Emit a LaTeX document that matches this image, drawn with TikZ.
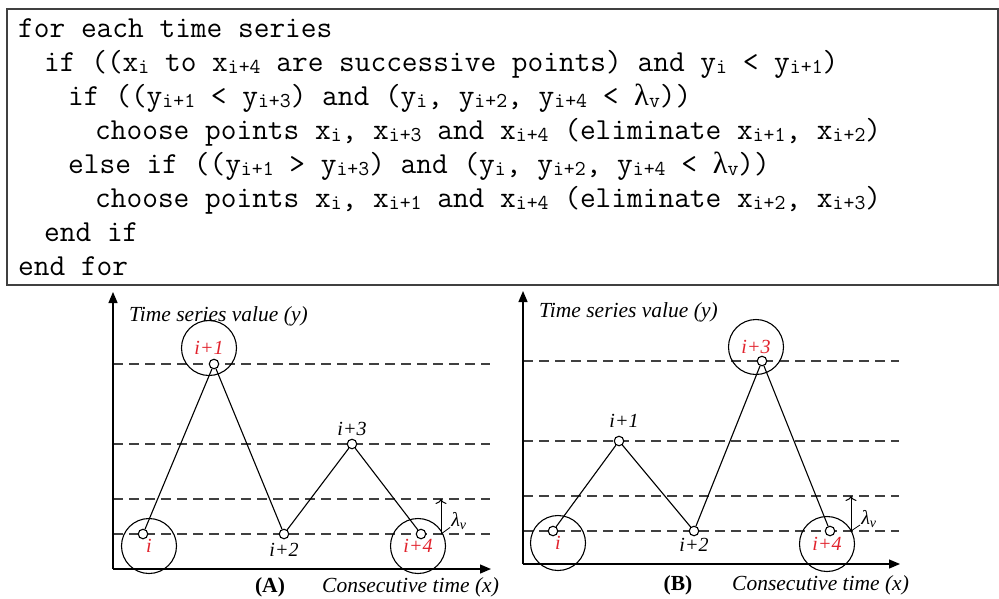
\documentclass[tikz,border=0pt]{standalone}
\usepackage{fontspec}
\setmainfont{Liberation Serif}
\newfontfamily\grkfont{Liberation Serif}
\usepackage{tikz}
\usetikzlibrary{arrows.meta,positioning}

\definecolor{ptred}{RGB}{225,35,45}
\newcommand{\sbs}[1]{\raisebox{-2pt}{\fontsize{21.2}{21.2}\selectfont #1}}
\newcommand{\lam}{{\grkfont λ}}

\begin{document}
\begin{tikzpicture}[x=1pt, y=-1pt,
  code/.style={anchor=base west, inner sep=0, font=\ttfamily\fontsize{30.5}{34}\selectfont\frenchspacing},
  codebox/.style={draw=black!75, line width=1.4pt},
  level/.style={draw=black!75, line width=1.4pt, dash pattern=on 10pt off 6pt},
  axis/.style={-{Triangle[length=11pt,width=9pt]}, line width=1.3pt},
  link/.style={line width=1.1pt},
  pt/.style={circle, draw, line width=1.1pt, fill=white, inner sep=0, minimum size=9.5pt},
  ring/.style={circle, draw, line width=1.1pt, inner sep=0, minimum size=55pt, text=ptred,
               font=\fontsize{20}{22}\selectfont\itshape},
  lab/.style={inner sep=1pt, font=\fontsize{20}{22}\selectfont\itshape},
  axtxt/.style={anchor=west, inner sep=0, font=\fontsize{21.5}{24}\selectfont\itshape},
  captxt/.style={inner sep=0, font=\fontsize{21.5}{24}\selectfont\bfseries},
  gap/.style={-{To[length=5pt,width=11pt]}, line width=1pt}
]
  \useasboundingbox (0,0) rectangle (999,598);

  % pseudo code
  \draw[codebox] (7,9) rectangle (998,285);
  \node[code] (c1) at (18,37)  {for each time series};
  \node[code] (c2) at (44,71)  {if ((x\sbs{i} to x\sbs{i+4} are successive points) and y\sbs{i} < y\sbs{i+1})};
  \node[code] (c3) at (68,105) {if ((y\sbs{i+1} < y\sbs{i+3}) and (y\sbs{i}, y\sbs{i+2}, y\sbs{i+4} < \lam\sbs{v}))};
  \node[code] (c4) at (95,139) {choose points x\sbs{i}, x\sbs{i+3} and x\sbs{i+4} (eliminate x\sbs{i+1}, x\sbs{i+2})};
  \node[code] (c5) at (68,173) {else if ((y\sbs{i+1} > y\sbs{i+3}) and (y\sbs{i}, y\sbs{i+2}, y\sbs{i+4} < \lam\sbs{v}))};
  \node[code] (c6) at (95,207) {choose points x\sbs{i}, x\sbs{i+1} and x\sbs{i+4} (eliminate x\sbs{i+2}, x\sbs{i+3})};
  \node[code] (c7) at (44,241) {end if};
  \node[code] (c8) at (18,275) {end for};

  % panel (A)
  \coordinate (oA) at (113,569);
  \coordinate (yA) at (113,292);
  \coordinate (xA) at (491,569);
  \foreach \h in {364,444,499,534}
    \draw[level] (113,\h) -- (490,\h);
  \draw[axis] (oA) -- (yA);
  \draw[axis] (oA) -- (xA);
  \node[ring] (rA0) at (149,546) {i};
  \node[ring] (rA1) at (209,348) {i+1};
  \node[ring] (rA4) at (418,546) {i+4};
  \node[pt] (a0) at (143,534) {};
  \node[pt] (a1) at (214,364) {};
  \node[pt] (a2) at (284,534) {};
  \node[pt] (a3) at (352,444) {};
  \node[pt] (a4) at (421,534) {};
  \draw[link] (a0) -- (a1) -- (a2) -- (a3) -- (a4);
  \node[lab, below=3pt of a2] (tA2) {i+2};
  \node[lab, above=2pt of a3] (tA3) {i+3};
  \coordinate (vA0) at (441,534);
  \coordinate (vA1) at (441,499);
  \draw[gap] (vA0) -- (vA1);
  \node[lab] (lamA) at (459,521) {λ\textsubscript{v}};
  \draw[line width=0.8pt] (vA0) -- (lamA);
  \node[axtxt] (tyA) at (129,316) {Time series value (y)};
  \node[axtxt] (txA) at (322,587) {Consecutive time (x)};
  \node[captxt] (capA) at (270,587) {(A)};

  % panel (B)
  \coordinate (oB) at (523,564);
  \coordinate (yB) at (523,291);
  \coordinate (xB) at (900,564);
  \foreach \h in {361,441,496,531}
    \draw[level] (523,\h) -- (899,\h);
  \draw[axis] (oB) -- (yB);
  \draw[axis] (oB) -- (xB);
  \node[ring] (rB0) at (558,543) {i};
  \node[ring] (rB3) at (756,347) {i+3};
  \node[ring] (rB4) at (827,544) {i+4};
  \node[pt] (b0) at (553,531) {};
  \node[pt] (b1) at (619,441) {};
  \node[pt] (b2) at (694,531) {};
  \node[pt] (b3) at (762,361) {};
  \node[pt] (b4) at (830,531) {};
  \draw[link] (b0) -- (b1) -- (b2) -- (b3) -- (b4);
  \node[lab, above=7pt of b1, xshift=5pt] (tB1) {i+1};
  \node[lab, below=1pt of b2] (tB2) {i+2};
  \coordinate (vB0) at (851,531);
  \coordinate (vB1) at (851,496);
  \draw[gap] (vB0) -- (vB1);
  \node[lab] (lamB) at (869,519) {λ\textsubscript{v}};
  \draw[line width=0.8pt] (vB0) -- (lamB);
  \node[axtxt] (tyB) at (539,312) {Time series value (y)};
  \node[axtxt] (txB) at (732,585) {Consecutive time (x)};
  \node[captxt] (capB) at (678,585) {(B)};
\end{tikzpicture}
\end{document}
